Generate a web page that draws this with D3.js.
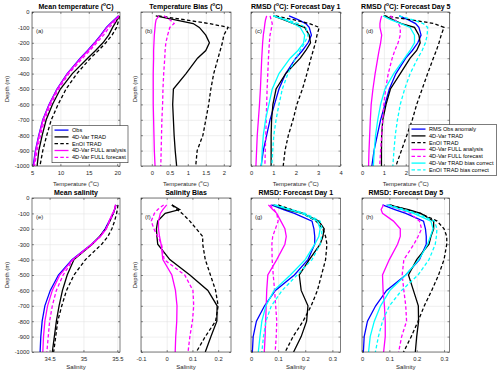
<!DOCTYPE html>
<html>
<head>
<meta charset="utf-8">
<script src="https://cdn.jsdelivr.net/npm/d3@7"></script>
<style>
  body { margin: 0; background: #fff; }
  svg text { font-family: "Liberation Sans", Arial, sans-serif; }
</style>
</head>
<body>
<div id="chart"></div>
<script>
// depth levels (m)
var tDepth = [-25, -50, -75, -100, -150, -200, -250, -300, -400, -500, -600, -700, -800, -900, -1000];
var sDepth = [-45, -75, -100, -150, -200, -250, -300, -400, -500, -600, -700, -800, -900, -1000];

// (a) mean temperature
var meanT_obs    = [20.2, 19.5, 18.8, 18.1, 17.1, 16.0, 14.8, 13.5, 11.2, 9.4, 8.0, 6.9, 6.2, 5.6, 5.2];
var meanT_trad   = [20.3, 20.0, 19.6, 19.2, 18.5, 17.5, 16.2, 14.8, 12.1, 10.0, 8.6, 7.5, 6.8, 6.2, 5.9];
var meanT_enoi   = [20.4, 20.3, 20.1, 19.9, 19.1, 18.0, 16.7, 15.3, 12.9, 11.0, 9.6, 8.4, 7.6, 6.9, 6.4];
var meanT_fullAn = [20.3, 19.6, 18.9, 18.2, 17.2, 16.1, 14.9, 13.6, 11.25, 9.45, 8.05, 6.95, 6.25, 5.65, 5.3];
var meanT_fullFc = [20.3, 19.9, 19.3, 18.6, 17.6, 16.4, 15.2, 13.9, 11.5, 9.7, 8.3, 7.2, 6.5, 5.9, 5.45];

// (b) temperature bias
var biasT_trad   = [0.11, 0.62, 1.15, 1.32, 1.5, 1.6, 1.5, 1.27, 0.95, 0.6, 0.58, 0.6, 0.62, 0.65, 0.69];
var biasT_enoi   = [0.18, 0.9, 1.6, 2.12, 2.0, 1.96, 1.9, 1.84, 1.72, 1.64, 1.58, 1.5, 1.42, 1.26, 1.22];
var biasT_fullAn = [0.2, 0.12, 0.1, 0.09, 0.07, 0.06, 0.05, 0.05, 0.04, 0.04, 0.04, 0.05, 0.06, 0.07, 0.09];
var biasT_fullFc = [0.34, 0.5, 0.62, 0.5, 0.44, 0.39, 0.37, 0.36, 0.33, 0.31, 0.3, 0.28, 0.27, 0.26, 0.25];

// (c),(d) temperature RMSD
var rmsT_obsAnom  = [1.7, 2.1, 2.45, 2.6, 2.7, 2.55, 2.3, 2.0, 1.55, 1.25, 1.05, 0.85, 0.7, 0.55, 0.45];
var rmsT1_trad    = [1.0, 1.45, 1.9, 2.4, 2.6, 2.66, 2.45, 2.2, 1.55, 1.12, 0.98, 0.92, 0.9, 0.9, 0.9];
var rmsT1_enoi    = [1.1, 1.9, 2.6, 3.05, 2.95, 2.88, 2.78, 2.68, 2.5, 2.3, 2.05, 1.88, 1.67, 1.52, 1.44];
var rmsT1_fullAn  = [0.7, 0.65, 0.62, 0.6, 0.55, 0.52, 0.5, 0.48, 0.45, 0.42, 0.38, 0.33, 0.28, 0.25, 0.22];
var rmsT1_fullFc  = [0.85, 0.9, 0.95, 0.92, 0.85, 0.82, 0.8, 0.78, 0.75, 0.72, 0.7, 0.68, 0.66, 0.64, 0.62];
var rmsT1_tradBc  = [1.0, 1.5, 1.9, 2.2, 2.4, 2.35, 2.1, 1.75, 1.25, 0.95, 0.8, 0.65, 0.55, 0.5, 0.47];
var rmsT1_enoiBc  = [1.0, 1.6, 2.1, 2.45, 2.55, 2.4, 2.2, 2.0, 1.65, 1.4, 1.25, 1.12, 1.02, 0.97, 0.93];
var rmsT5_trad    = [1.04, 1.4, 1.8, 2.4, 2.6, 2.66, 2.5, 2.2, 1.75, 1.3, 1.1, 0.95, 0.9, 0.89, 0.89];
var rmsT5_enoi    = [1.0, 2.2, 3.3, 3.75, 3.62, 3.52, 3.4, 3.26, 3.0, 2.75, 2.5, 2.3, 2.05, 1.8, 1.55];
var rmsT5_fullAn  = [0.9, 0.85, 0.82, 0.82, 0.9, 0.85, 0.78, 0.72, 0.6, 0.5, 0.42, 0.38, 0.35, 0.32, 0.3];
var rmsT5_fullFc  = [1.3, 1.5, 1.65, 1.75, 1.75, 1.65, 1.5, 1.38, 1.2, 1.08, 1.0, 0.95, 0.9, 0.85, 0.81];
var rmsT5_tradBc  = [0.96, 1.3, 1.78, 2.2, 2.4, 2.4, 2.2, 1.95, 1.45, 1.05, 0.85, 0.72, 0.62, 0.56, 0.52];
var rmsT5_enoiBc  = [1.7, 2.3, 2.8, 3.0, 2.98, 2.9, 2.75, 2.55, 2.2, 1.95, 1.75, 1.62, 1.52, 1.46, 1.41];

// (e) mean salinity
var meanS_obs    = [35.48, 35.46, 35.44, 35.38, 35.32, 35.24, 35.12, 34.83, 34.63, 34.51, 34.43, 34.39, 34.37, 34.36];
var meanS_trad   = [35.48, 35.46, 35.44, 35.39, 35.33, 35.24, 35.13, 34.86, 34.76, 34.69, 34.64, 34.6, 34.57, 34.54];
var meanS_enoi   = [35.51, 35.5, 35.49, 35.46, 35.42, 35.36, 35.27, 35.03, 34.86, 34.75, 34.68, 34.62, 34.59, 34.56];
var meanS_fullAn = [35.47, 35.46, 35.43, 35.38, 35.34, 35.25, 35.12, 34.84, 34.65, 34.54, 34.47, 34.43, 34.41, 34.4];
var meanS_fullFc = [35.48, 35.46, 35.44, 35.39, 35.33, 35.25, 35.13, 34.85, 34.7, 34.6, 34.54, 34.5, 34.48, 34.46];

// (f) salinity bias
var biasS_trad   = [0.02, 0.05, -0.006, -0.035, -0.04, -0.038, -0.035, 0.012, 0.09, 0.16, 0.196, 0.195, 0.172, 0.15];
var biasS_enoi   = [0.02, 0.04, 0.06, 0.09, 0.115, 0.14, 0.14, 0.15, 0.17, 0.19, 0.2, 0.19, 0.15, 0.115];
var biasS_fullAn = [0.0, -0.015, -0.025, -0.032, -0.032, -0.028, -0.022, -0.015, 0.02, 0.034, 0.04, 0.039, 0.035, 0.033];
var biasS_fullFc = [-0.012, -0.035, -0.048, -0.06, -0.05, -0.035, -0.02, -0.01, 0.07, 0.102, 0.105, 0.1, 0.09, 0.083];

// (g),(h) salinity RMSD
var rmsS_obsAnom  = [0.075, 0.12, 0.16, 0.225, 0.232, 0.235, 0.235, 0.21, 0.16, 0.09, 0.05, 0.02, 0.008, 0.005];
var rmsS1_trad    = [0.083, 0.13, 0.19, 0.25, 0.27, 0.265, 0.255, 0.215, 0.178, 0.185, 0.21, 0.205, 0.185, 0.157];
var rmsS1_enoi    = [0.1, 0.15, 0.19, 0.24, 0.265, 0.275, 0.28, 0.275, 0.26, 0.245, 0.222, 0.192, 0.155, 0.126];
var rmsS1_fullAn  = [0.064, 0.08, 0.095, 0.11, 0.125, 0.13, 0.125, 0.095, 0.062, 0.058, 0.056, 0.054, 0.052, 0.049];
var rmsS1_fullFc  = [0.07, 0.085, 0.095, 0.1, 0.09, 0.08, 0.077, 0.078, 0.082, 0.087, 0.091, 0.095, 0.093, 0.089];
var rmsS1_tradBc  = [0.083, 0.14, 0.19, 0.245, 0.255, 0.25, 0.235, 0.2, 0.145, 0.085, 0.055, 0.04, 0.033, 0.027];
var rmsS1_enoiBc  = [0.089, 0.15, 0.2, 0.255, 0.262, 0.26, 0.255, 0.225, 0.17, 0.115, 0.075, 0.055, 0.046, 0.04];
var rmsS5_trad    = [0.097, 0.17, 0.215, 0.262, 0.262, 0.252, 0.245, 0.2, 0.17, 0.188, 0.206, 0.207, 0.2, 0.195];
var rmsS5_enoi    = [0.103, 0.16, 0.213, 0.275, 0.3, 0.31, 0.31, 0.3, 0.28, 0.255, 0.228, 0.205, 0.18, 0.152];
var rmsS5_fullAn  = [0.079, 0.07, 0.075, 0.115, 0.14, 0.14, 0.13, 0.1, 0.075, 0.077, 0.082, 0.085, 0.085, 0.079];
var rmsS5_fullFc  = [0.09, 0.14, 0.176, 0.21, 0.218, 0.205, 0.19, 0.153, 0.147, 0.153, 0.16, 0.163, 0.145, 0.134];
var rmsS5_tradBc  = [0.09, 0.145, 0.189, 0.252, 0.26, 0.25, 0.24, 0.208, 0.16, 0.102, 0.068, 0.045, 0.03, 0.024];
var rmsS5_enoiBc  = [0.097, 0.155, 0.2, 0.265, 0.274, 0.272, 0.268, 0.245, 0.205, 0.145, 0.1, 0.075, 0.06, 0.049];

var BLUE = "#0000ff", BLACK = "#000000", MAGENTA = "#ff00ff", CYAN = "#00ffff";
var AXC = "#262626";
var LW = 1.3;

var svg = d3.select("#chart").append("svg")
  .attr("width", 500)
  .attr("height", 374);

var colLeft = [32, 141, 251, 362];
var colWidth = [88, 90, 89.5, 87.5];
var rowTop = [12, 198];
var rowH = 154;
var xlabelOffset = [19.5, 17.2];

// text with a superscript "o" for the degree sign
function richText(sel, str, fs) {
  var parts = str.split("°");
  sel.append("tspan").text(parts[0]);
  for (var i = 1; i < parts.length; i++) {
    sel.append("tspan").attr("dy", -fs * 0.38).attr("font-size", fs * 0.7).text("o");
    sel.append("tspan").attr("dy", fs * 0.38).text(parts[i]);
  }
}

function s(values, depth, color, dash) {
  return { values: values, depth: depth, color: color, dash: dash };
}

var panels = [
  { col: 0, row: 0, letter: "(a)", title: "Mean temperature (°C)", xlabel: "Temperature (°C)",
    domain: [5, 20.5], ticks: [5, 10, 15, 20], ylabels: true, ytitle: true,
    series: [s(meanT_obs, tDepth, BLUE), s(meanT_trad, tDepth, BLACK), s(meanT_enoi, tDepth, BLACK, true),
             s(meanT_fullAn, tDepth, MAGENTA), s(meanT_fullFc, tDepth, MAGENTA, true)],
    legend: { x: 52, y: 125.7, w: 76, names: ["Obs", "4D-Var TRAD", "EnOI TRAD", "4D-Var FULL analysis", "4D-Var FULL forecast"] } },
  { col: 1, row: 0, letter: "(b)", title: "Temperature Bias (°C)", xlabel: "Temperature (°C)",
    domain: [-0.3, 2.2], ticks: [0, 0.5, 1, 1.5, 2], ylabels: false, ytitle: true,
    series: [s(biasT_trad, tDepth, BLACK), s(biasT_enoi, tDepth, BLACK, true),
             s(biasT_fullAn, tDepth, MAGENTA), s(biasT_fullFc, tDepth, MAGENTA, true)] },
  { col: 2, row: 0, letter: "(c)", title: "RMSD (°C): Forecast Day 1", xlabel: "Temperature (°C)",
    domain: [0, 4], ticks: [0, 1, 2, 3, 4], ylabels: false, ytitle: false,
    series: [s(rmsT_obsAnom, tDepth, BLUE), s(rmsT1_trad, tDepth, BLACK), s(rmsT1_enoi, tDepth, BLACK, true),
             s(rmsT1_fullAn, tDepth, MAGENTA), s(rmsT1_fullFc, tDepth, MAGENTA, true),
             s(rmsT1_tradBc, tDepth, CYAN), s(rmsT1_enoiBc, tDepth, CYAN, true)] },
  // labels 3 and 4 sit under the legend box, so only 0-2 are written
  { col: 3, row: 0, letter: "(d)", title: "RMSD (°C): Forecast Day 5", xlabel: "Temperature (°C)",
    domain: [0, 4], ticks: [0, 1, 2, 3, 4], shown: [0, 1, 2], ylabels: false, ytitle: false,
    series: [s(rmsT_obsAnom, tDepth, BLUE), s(rmsT5_trad, tDepth, BLACK), s(rmsT5_enoi, tDepth, BLACK, true),
             s(rmsT5_fullAn, tDepth, MAGENTA), s(rmsT5_fullFc, tDepth, MAGENTA, true),
             s(rmsT5_tradBc, tDepth, CYAN), s(rmsT5_enoiBc, tDepth, CYAN, true)],
    legend: { x: 409, y: 124.7, w: 87.7, names: ["RMS Obs anomaly", "4D-Var TRAD", "EnOI TRAD", "4D-Var FULL analysis",
                                                 "4D-Var FULL forecast", "4D-Var TRAD bias correct", "EnOI TRAD bias correct"] } },
  { col: 0, row: 1, letter: "(e)", title: "Mean salinity", xlabel: "Salinity",
    domain: [34.24, 35.54], ticks: [34.5, 35, 35.5], ylabels: true, ytitle: true,
    series: [s(meanS_obs, sDepth, BLUE), s(meanS_trad, sDepth, BLACK), s(meanS_enoi, sDepth, BLACK, true),
             s(meanS_fullAn, sDepth, MAGENTA), s(meanS_fullFc, sDepth, MAGENTA, true)] },
  { col: 1, row: 1, letter: "(f)", title: "Salinity Bias", xlabel: "Salinity",
    domain: [-0.1, 0.25], ticks: [-0.1, 0, 0.1, 0.2], ylabels: false, ytitle: true,
    series: [s(biasS_trad, sDepth, BLACK), s(biasS_enoi, sDepth, BLACK, true),
             s(biasS_fullAn, sDepth, MAGENTA), s(biasS_fullFc, sDepth, MAGENTA, true)] },
  { col: 2, row: 1, letter: "(g)", title: "RMSD: Forecast Day 1", xlabel: "Salinity",
    domain: [0, 0.33], ticks: [0, 0.1, 0.2, 0.3], ylabels: false, ytitle: false,
    series: [s(rmsS_obsAnom, sDepth, BLUE), s(rmsS1_trad, sDepth, BLACK), s(rmsS1_enoi, sDepth, BLACK, true),
             s(rmsS1_fullAn, sDepth, MAGENTA), s(rmsS1_fullFc, sDepth, MAGENTA, true),
             s(rmsS1_tradBc, sDepth, CYAN), s(rmsS1_enoiBc, sDepth, CYAN, true)] },
  { col: 3, row: 1, letter: "(h)", title: "RMSD: Forecast Day 5", xlabel: "Salinity",
    domain: [0, 0.32], ticks: [0, 0.1, 0.2, 0.3], ylabels: false, ytitle: false,
    series: [s(rmsS_obsAnom, sDepth, BLUE), s(rmsS5_trad, sDepth, BLACK), s(rmsS5_enoi, sDepth, BLACK, true),
             s(rmsS5_fullAn, sDepth, MAGENTA), s(rmsS5_fullFc, sDepth, MAGENTA, true),
             s(rmsS5_tradBc, sDepth, CYAN), s(rmsS5_enoiBc, sDepth, CYAN, true)] }
];

var yTicks = d3.range(0, -1001, -100);

panels.forEach(function(p) {
  var left = colLeft[p.col], top = rowTop[p.row], w = colWidth[p.col], h = rowH;
  var x = d3.scaleLinear().domain(p.domain).range([0, w]);
  var y = d3.scaleLinear().domain([-1000, 0]).range([h, 0]);
  var g = svg.append("g").attr("transform", "translate(" + left + "," + top + ")");

  // grid
  g.append("g").attr("class", "grid")
    .attr("transform", "translate(0," + h + ")")
    .call(d3.axisBottom(x).tickValues(p.ticks).tickSize(-h).tickFormat(""));
  g.append("g").attr("class", "grid")
    .call(d3.axisLeft(y).tickValues(yTicks).tickSize(-w).tickFormat(""));
  g.selectAll(".grid line").attr("stroke", "#e4e4e4").attr("stroke-width", 0.6);
  g.selectAll(".grid .domain").remove();

  // data lines
  var clip = "clip-" + p.letter.replace(/\W/g, "");
  g.append("clipPath").attr("id", clip).append("rect").attr("width", w).attr("height", h);
  p.series.forEach(function(sr) {
    var line = d3.line()
      .x(function(d) { return x(d); })
      .y(function(d, i) { return y(sr.depth[i]); });
    g.append("path")
      .attr("clip-path", "url(#" + clip + ")")
      .attr("d", line(sr.values))
      .attr("fill", "none")
      .attr("stroke", sr.color)
      .attr("stroke-width", LW)
      .attr("stroke-dasharray", sr.dash ? "3.5,2.3" : null);
  });

  // axes (ticks point inward)
  var shown = p.shown || p.ticks;
  var xAx = g.append("g").attr("transform", "translate(0," + h + ")")
    .call(d3.axisBottom(x).tickValues(p.ticks).tickSize(-2).tickPadding(5)
      .tickFormat(function(d) { return shown.indexOf(d) >= 0 ? String(d) : ""; }));
  var xTop = g.append("g")
    .call(d3.axisTop(x).tickValues(p.ticks).tickSize(-2).tickFormat(""));
  var yAx = g.append("g")
    .call(d3.axisLeft(y).tickValues(yTicks).tickSize(-2).tickPadding(2.5)
      .tickFormat(p.ylabels ? function(d) { return String(d); } : ""));
  var yRight = g.append("g").attr("transform", "translate(" + w + ",0)")
    .call(d3.axisRight(y).tickValues(yTicks).tickSize(-2).tickFormat(""));
  [xAx, xTop, yAx, yRight].forEach(function(a) {
    a.select(".domain").remove();
    a.selectAll("line").attr("stroke", AXC).attr("stroke-width", 0.5);
    a.selectAll("text").attr("fill", AXC).attr("font-size", 5.8);
    a.selectAll("text").filter(function() { return this.textContent === ""; }).remove();
  });

  g.append("rect").attr("width", w).attr("height", h)
    .attr("fill", "none").attr("stroke", AXC).attr("stroke-width", 0.6);

  // title
  var t = g.append("text").attr("x", w / 2).attr("y", -3.3)
    .attr("text-anchor", "middle").attr("font-size", 7).attr("font-weight", "bold").attr("fill", "#000");
  richText(t, p.title, 7);

  // x label
  var xl = g.append("text").attr("x", w / 2).attr("y", h + xlabelOffset[p.row])
    .attr("text-anchor", "middle").attr("font-size", 6).attr("fill", AXC);
  richText(xl, p.xlabel, 6);

  // y label
  if (p.ytitle) {
    g.append("text")
      .attr("transform", "translate(" + (p.ylabels ? -23 : -4.2) + "," + (h / 2) + ") rotate(-90)")
      .attr("text-anchor", "middle").attr("font-size", 6).attr("fill", AXC)
      .text("Depth (m)");
  }

  // panel letter
  g.append("text").attr("x", 4).attr("y", 20.5)
    .attr("font-size", 6).attr("fill", AXC).text(p.letter);
});

// legends on top of everything
panels.forEach(function(p) {
  if (!p.legend) return;
  var L = p.legend, step = 6.8;
  var lg = svg.append("g").attr("transform", "translate(" + L.x + "," + L.y + ")");
  lg.append("rect").attr("width", L.w).attr("height", L.names.length * step + 3)
    .attr("fill", "#fff").attr("stroke", AXC).attr("stroke-width", 0.6);
  L.names.forEach(function(name, i) {
    var sr = p.series[i], yy = 4.4 + i * step;
    lg.append("line").attr("x1", 2.5).attr("x2", 16.5).attr("y1", yy).attr("y2", yy)
      .attr("stroke", sr.color).attr("stroke-width", LW)
      .attr("stroke-dasharray", sr.dash ? "3.5,2.3" : null);
    lg.append("text").attr("x", 20).attr("y", yy).attr("dy", "0.35em")
      .attr("font-size", 5.6).attr("fill", "#000").text(name);
  });
});
</script>
</body>
</html>
